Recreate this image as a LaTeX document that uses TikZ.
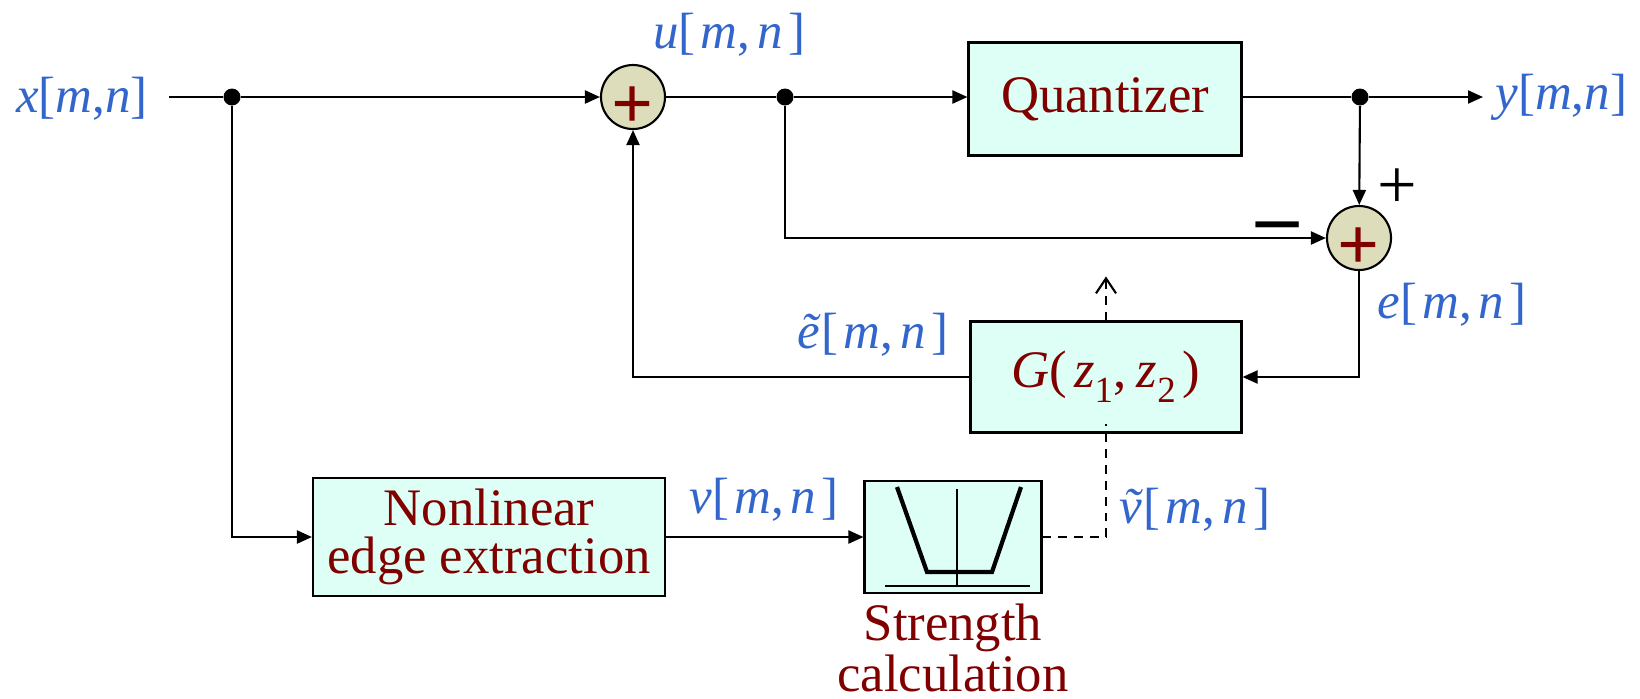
\documentclass[tikz,border=0pt]{standalone}
\usepackage{fontspec}
\setmainfont{Liberation Serif}
\usepackage{tikz}
\usetikzlibrary{positioning, arrows.meta}
\definecolor{sigblue}{RGB}{51,102,204}
\definecolor{blocktext}{RGB}{128,0,0}
\definecolor{blockfill}{RGB}{222,255,246}
\definecolor{sumfill}{RGB}{221,221,187}
\newcommand{\sig}[1]{\textit{#1}}
\newcommand{\idx}{[\hspace{1.5pt}\sig{m},\hspace{2pt}\sig{n}\hspace{1.5pt}]}
\newcommand{\subdig}[1]{\raisebox{-4.3pt}{\fontsize{10.5}{10.5}\selectfont #1}}

\begin{document}
\begin{tikzpicture}[
    block/.style={draw, line width=0.6pt, fill=blockfill, text=blocktext, align=center,
                  font=\fontsize{15}{13.5}\selectfont},
    sum/.style={circle, draw, line width=0.6pt, fill=sumfill, minimum size=0.64cm, inner sep=0pt},
    sumsign/.style={text=blocktext, font=\bfseries\fontsize{21}{21}\selectfont, inner sep=0pt},
    sig/.style={text=sigblue, font=\fontsize{14.5}{16}\selectfont},
    dot/.style={circle, fill, minimum size=0.17cm, inner sep=0pt},
    ln/.style={line width=0.6pt},
    arr/.style={-{Triangle[length=1.5mm, width=1.3mm]}, line width=0.6pt},
    ctl/.style={line width=0.6pt, dash pattern=on 2.5pt off 2pt}
]
\useasboundingbox (0,0) rectangle (16.40,-6.98);

% ---- forward path ----
\node[sig] (xin) at (0.82,-0.99) {\sig{x}[\sig{m},\sig{n}]};
\coordinate (start) at (1.69,-0.97);
\node[dot] (d1) at (2.32,-0.97) {};
\node[sum] (add1) at (6.33,-0.97) {};
\node[sumsign] (add1s) at ([yshift=-0.11cm]add1.center) {+};
\node[dot] (d2) at (7.85,-0.97) {};
\node[block, minimum width=2.73cm, minimum height=1.13cm] (quant) at (11.05,-0.99) {Quantizer};
\node[dot] (d3) at (13.60,-0.97) {};
\coordinate (yend) at (14.83,-0.97);
\node[sig, right=0cm of yend] (yout) {\sig{y}[\sig{m},\sig{n}]};
\node[sig] (ulab) at (7.29,-0.35) {\sig{u}\idx};
\draw[ln] (start) -- (d1);
\draw[arr] (d1) -- (add1);
\draw[ln] (add1) -- (d2);
\draw[arr] (d2) -- (d2 -| quant.west);
\draw[ln] (d3 -| quant.east) -- (d3);
\draw[arr] (d3) -- (yend);

% ---- error feedback ----
\node[sum] (add2) at (13.59,-2.38) {};
\node[sumsign] (add2s) at ([yshift=-0.11cm]add2.center) {+};
\node[font=\fontsize{20}{20}\selectfont] (plus) at (13.97,-1.89) {+};
\node[font=\bfseries\fontsize{24}{24}\selectfont] (minus) at (12.78,-2.33) {–};
\node[sig] (elab) at (14.52,-3.05) {\sig{e}\idx};
\node[block, minimum width=2.71cm, minimum height=1.11cm] (gfilt) at (11.06,-3.77)
    {\sig{G}(\hspace{2pt}\sig{z}\subdig{1},\hspace{3pt}\sig{z}\subdig{2}\hspace{2pt})};
\node[sig] (etil) at (8.73,-3.35) {\sig{\~e}\idx};
\draw[arr] (d3) -- (add2);
\draw[arr] (d2) |- (add2);
\draw[arr] (add2) |- (gfilt.east);
\draw[arr] (gfilt.west) -| (add1);

% ---- edge control ----
\node[block, minimum width=3.52cm, minimum height=1.12cm] (edge) at (4.89,-5.37) {Nonlinear\\edge extraction};
\node[block, minimum width=1.77cm, minimum height=1.12cm] (strength) at (9.53,-5.37) {};
\node[below=-0.03cm of strength, text=blocktext, align=center, font=\fontsize{15}{13.6}\selectfont] (strlab) {Strength\\calculation};
\node[sig] (vlab) at (7.64,-5.00) {\sig{v}\idx};
\node[sig] (vtil) at (11.95,-5.10) {\sig{\~v}\idx};
\begin{scope}[shift={(strength.center)}]
  \draw[line width=0.4pt] (0.04,0.48) -- (0.04,-0.49);
  \draw[line width=0.4pt] (-0.68,-0.49) -- (0.77,-0.49);
  \draw[line width=1.2pt] (-0.56,0.50) -- (-0.26,-0.35) -- (0.39,-0.35) -- (0.68,0.50);
\end{scope}
\draw[arr] (d1) |- (edge.west);
\draw[arr] (edge) -- (strength);
\draw[ctl] (strength.east) -| ([yshift=0.1cm]gfilt.south);
\draw[ctl, -{Straight Barb[length=1.5mm, width=2mm]}] (gfilt.north) -- ([yshift=0.44cm]gfilt.north);

\end{tikzpicture}
\end{document}
